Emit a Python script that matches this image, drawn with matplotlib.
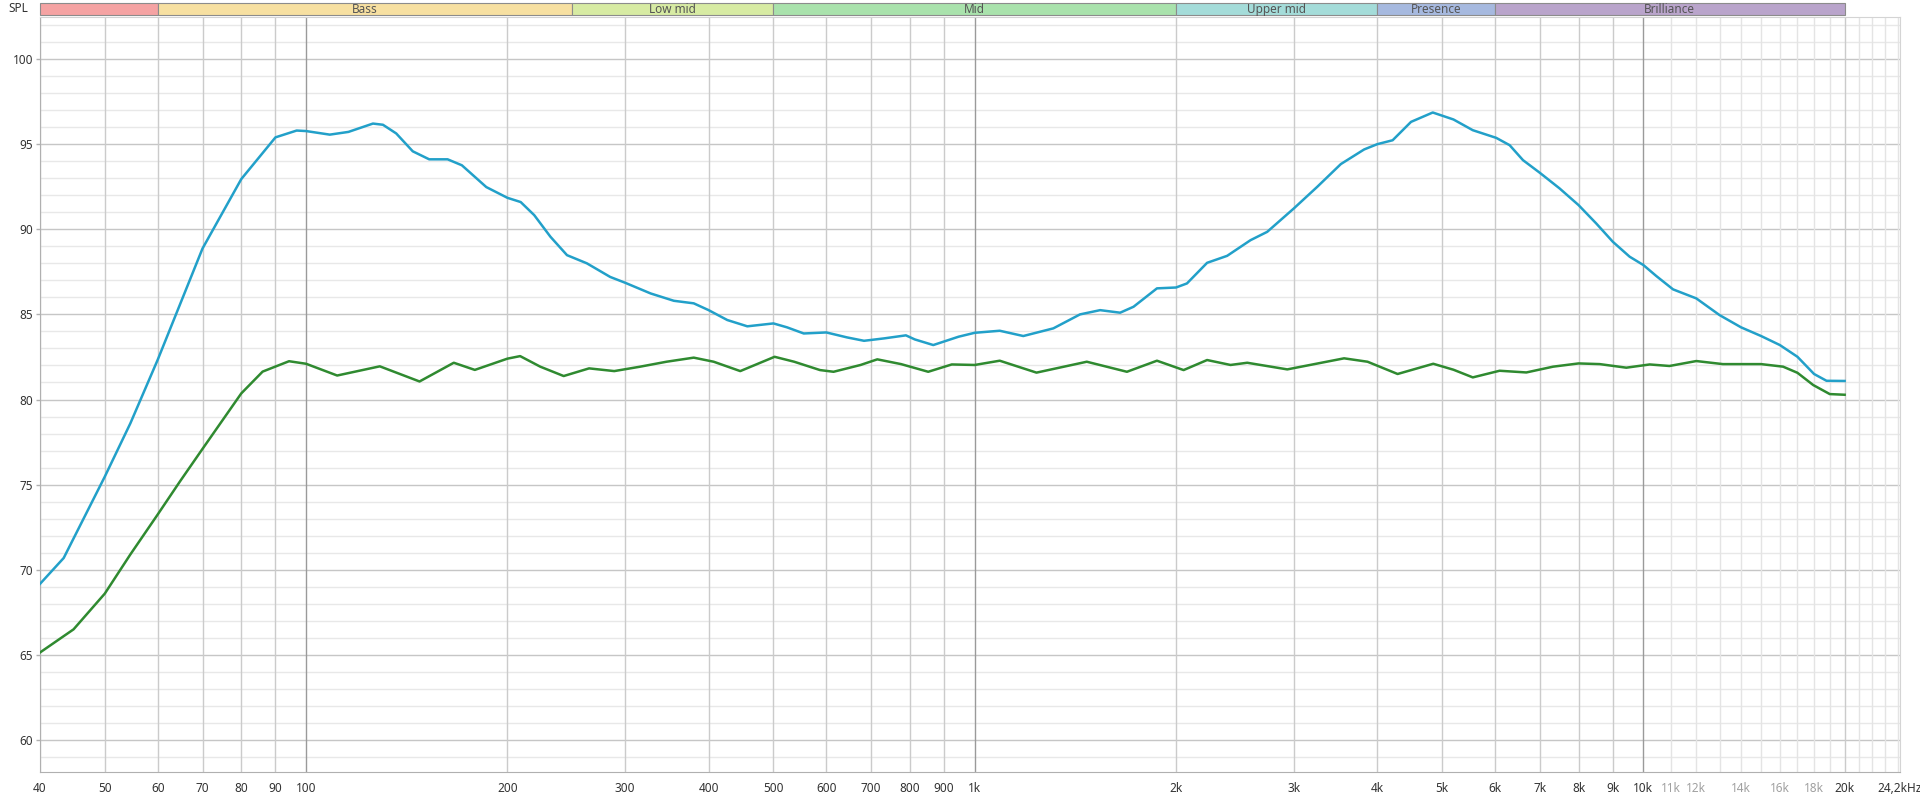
import numpy as np
import matplotlib.pyplot as plt
from matplotlib.patches import Rectangle

plt.rcParams['font.family'] = ['Noto Sans', 'DejaVu Sans']

# frequency response
blue_freq = [40, 43.4, 50, 54.6, 60, 64.8, 70, 80, 90, 96.8, 100, 108.5, 115.7, 125.9, 130.3,
             136.4, 144.4, 152.8, 162.8, 171, 186, 200, 209.4, 219.4, 232, 245.6, 263, 285,
             300, 327.6, 354.8, 380, 400, 426.5, 457, 500, 524, 555, 600, 644, 683, 731.6,
             789, 813.6, 867, 946, 1000, 1090, 1182, 1311, 1437, 1540, 1650, 1728, 1873,
             2000, 2077, 2226, 2385, 2585, 2738, 3000, 3254, 3528, 3823, 4000, 4217, 4493,
             4842, 5200, 5558, 6025, 6310, 6607, 7000, 7494, 8000, 8503, 9000, 9538, 10000,
             10459, 11077, 12000, 13000, 14000, 15000, 16000, 17000, 18000, 18790, 20000]
blue_spl = [69.17, 70.69, 75.47, 78.6, 82.34, 85.6, 88.87, 92.95, 95.4, 95.8, 95.77, 95.56,
            95.72, 96.21, 96.14, 95.63, 94.58, 94.11, 94.11, 93.76, 92.48, 91.85, 91.6, 90.83,
            89.56, 88.48, 88.0, 87.2, 86.86, 86.23, 85.8, 85.65, 85.25, 84.67, 84.3, 84.47,
            84.24, 83.88, 83.94, 83.65, 83.45, 83.59, 83.77, 83.53, 83.2, 83.69, 83.92, 84.04,
            83.73, 84.18, 85.0, 85.25, 85.1, 85.45, 86.53, 86.58, 86.82, 88.03, 88.44, 89.36,
            89.85, 91.22, 92.5, 93.83, 94.69, 95.0, 95.23, 96.31, 96.86, 96.45, 95.82, 95.37,
            94.94, 94.06, 93.32, 92.4, 91.42, 90.34, 89.27, 88.39, 87.9, 87.25, 86.47, 85.94,
            84.96, 84.24, 83.73, 83.2, 82.51, 81.5, 81.1, 81.09]

green_freq = [40, 44.9, 50, 54.6, 60, 64.8, 70, 80, 86.1, 94.3, 100, 111.3, 128.9, 147.8,
              166.3, 178.8, 200, 209, 224, 242.8, 265, 289, 316, 346, 380, 407, 446, 502,
              537, 587, 615, 675, 715, 776, 852, 924, 1000, 1090, 1237, 1471, 1689, 1873,
              2053, 2226, 2413, 2556, 2934, 3568, 3868, 4290, 4850, 5200, 5558, 6095, 6683,
              7328, 8000, 8607, 9430, 10221, 10940, 12000, 13150, 15000, 16180, 17000,
              17950, 19000, 20000]
green_spl = [65.14, 66.5, 68.6, 70.9, 73.25, 75.2, 77.1, 80.36, 81.64, 82.25, 82.1, 81.41,
             81.95, 81.06, 82.16, 81.74, 82.4, 82.55, 81.93, 81.38, 81.83, 81.67, 81.93,
             82.22, 82.46, 82.22, 81.67, 82.51, 82.22, 81.73, 81.63, 82.03, 82.36, 82.08,
             81.63, 82.06, 82.03, 82.28, 81.58, 82.22, 81.63, 82.28, 81.73, 82.32, 82.03,
             82.16, 81.77, 82.42, 82.22, 81.5, 82.1, 81.75, 81.3, 81.69, 81.59, 81.93, 82.12,
             82.08, 81.87, 82.06, 81.97, 82.26, 82.08, 82.08, 81.93, 81.57, 80.85, 80.32, 80.28]

band_edges = [20, 60, 250, 500, 2000, 4000, 6000, 20000]
band_names = ['', 'Bass', 'Low mid', 'Mid', 'Upper mid', 'Presence', 'Brilliance']
band_colors = ['#f5a3a3', '#f7e0a1', '#d7eba3', '#a9e2ac', '#a4dcd9', '#a6b9df', '#b9a4cb']

x_ticks = [40, 50, 60, 70, 80, 90, 100, 200, 300, 400, 500, 600, 700, 800, 900,
           1000, 2000, 3000, 4000, 5000, 6000, 7000, 8000, 9000, 10000,
           11000, 12000, 14000, 16000, 18000, 20000, 24200]
x_labels = ['40', '50', '60', '70', '80', '90', '100', '200', '300', '400', '500', '600',
            '700', '800', '900', '1k', '2k', '3k', '4k', '5k', '6k', '7k', '8k', '9k', '10k',
            '11k', '12k', '14k', '16k', '18k', '20k', '24,2kHz']
faint_labels = ['11k', '12k', '14k', '16k', '18k']
decade_lines = [100, 1000, 10000]
faint_lines = [11000, 12000, 13000, 14000, 15000, 16000, 17000, 18000, 19000,
               21000, 22000, 23000, 24000]
y_ticks = [60, 65, 70, 75, 80, 85, 90, 95, 100]

x_min, x_max = 40, 24200
y_min, y_max = 58.12, 102.47

fig = plt.figure(figsize=(19.2, 7.96), dpi=100)
ax = fig.add_axes([40 / 1920, 1 - 772 / 796, 1860 / 1920, 755 / 796])
ax.set_xscale('log')
ax.set_xlim(x_min, x_max)
ax.set_ylim(y_min, y_max)

# grid
for v in range(59, 103):
    if v % 5:
        ax.axhline(v, color='#e8e8e8', lw=1, zorder=0)
for v in y_ticks:
    ax.axhline(v, color='#c6c6c6', lw=1, zorder=0.5)
for f in x_ticks[:-1] + [13000, 15000, 17000, 19000, 21000, 22000, 23000, 24000]:
    if f in decade_lines:
        c = '#9a9a9a'
    elif f in faint_lines:
        c = '#e4e4e4'
    else:
        c = '#cbcbcb'
    ax.axvline(f, color=c, lw=1, zorder=0.6)

ax.plot(blue_freq, blue_spl, color='#22a0c9', lw=1.8, solid_joinstyle='round', zorder=3)
ax.plot(green_freq, green_spl, color='#2f8a30', lw=1.8, solid_joinstyle='round', zorder=3)

ax.minorticks_off()
ax.set_xticks(x_ticks)
ax.set_xticklabels(x_labels)
ax.tick_params(axis='x', length=0, pad=7, labelsize=8.5, labelcolor='#333333')
for lab in ax.get_xticklabels():
    if lab.get_text() in faint_labels:
        lab.set_color('#a0a0a0')
ax.set_yticks(y_ticks)
ax.tick_params(axis='y', length=3, width=1, color='#b0b0b0', pad=2, labelsize=8.5,
               labelcolor='#333333')
for side in ['left', 'bottom']:
    ax.spines[side].set_color('#b0b0b0')
for side in ['top', 'right']:
    ax.spines[side].set_color('#d4d4d4')

# frequency band strip on top
band = fig.add_axes([40 / 1920, 1 - 15 / 796, 1860 / 1920, 12 / 796])
band.set_xscale('log')
band.set_xlim(x_min, x_max)
band.set_ylim(0, 1)
band.axis('off')
for i, name in enumerate(band_names):
    lo, hi = band_edges[i], band_edges[i + 1]
    lo_c = max(lo, x_min)
    band.add_patch(Rectangle((lo_c, 0), hi - lo_c, 1, facecolor=band_colors[i],
                             edgecolor='#8c8c8c', lw=0.8, clip_on=False))
    if name:
        band.text(np.sqrt(lo * hi), 0.45, name, ha='center', va='center',
                  fontsize=8.5, color='#555555')

fig.text(18 / 1920, 1 - 8.5 / 796, 'SPL', ha='center', va='center', fontsize=8.5,
         color='#333333')

fig.savefig('out.png', dpi=100, facecolor='white')
